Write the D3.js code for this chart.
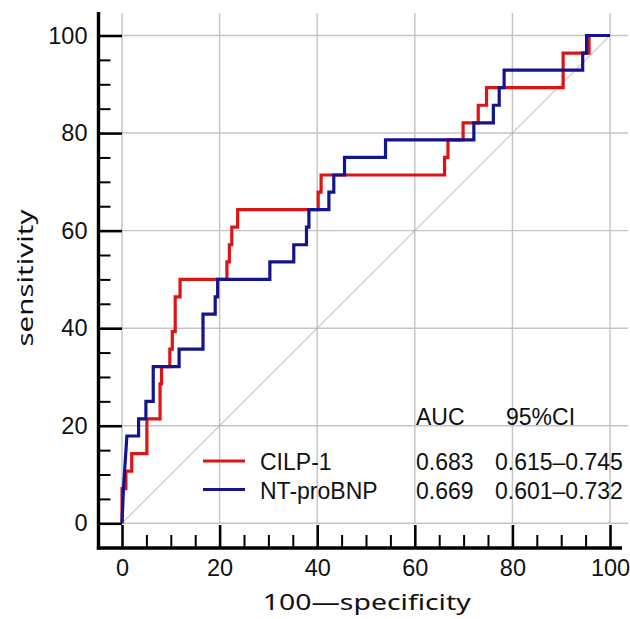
<!DOCTYPE html>
<html>
<head>
<meta charset="utf-8">
<script src="https://cdn.jsdelivr.net/npm/d3@7"></script>
<style>
  html, body { margin: 0; padding: 0; background: #fff; }
  svg { display: block; }
</style>
</head>
<body>
<div id="chart"></div>
<script>
// ---- data (ROC vertices: 100-specificity, sensitivity) ----
const seriesNames = ["CILP-1", "NT-proBNP"];
const seriesColors = ["#dc1414", "#14148e"];
const aucValues = ["0.683", "0.669"];
const ciValues = ["0.615\u20130.745", "0.601\u20130.732"];

const cilpFPR = [0, 0, 0.8, 0.8, 2.0, 2.0, 5.1, 5.1, 7.8, 7.8, 8.1, 8.1, 9.8, 9.8, 10.3, 10.3, 10.9, 10.9, 11.9, 11.9,
  21.5, 21.5, 22.0, 22.0, 22.5, 22.5, 23.7, 23.7, 40.2, 40.2, 40.8, 40.8, 66.1, 66.1, 66.8, 66.8, 69.9, 69.9,
  73.0, 73.0, 74.7, 74.7, 90.4, 90.4, 95.7, 95.7, 100];
const cilpTPR = [0, 7.1, 7.1, 10.7, 10.7, 14.3, 14.3, 21.4, 21.4, 28.6, 28.6, 32.1, 32.1, 35.7, 35.7, 39.3, 39.3, 46.4, 46.4, 50,
  50, 53.6, 53.6, 57.1, 57.1, 60.7, 60.7, 64.3, 64.3, 67.9, 67.9, 71.4, 71.4, 75, 75, 78.6, 78.6, 82.1,
  82.1, 85.7, 85.7, 89.3, 89.3, 96.4, 96.4, 100, 100];

const bnpFPR = [0, 0.3, 1.0, 3.4, 3.4, 4.9, 4.9, 6.4, 6.4, 11.7, 11.7, 16.6, 16.6, 19.1, 19.1, 19.6, 19.6,
  30.3, 30.3, 35.2, 35.2, 37.8, 37.8, 38.3, 38.3, 42.4, 42.4, 43.4, 43.4, 45.6, 45.6, 54.0, 54.0,
  72.1, 72.1, 76.1, 76.1, 77.3, 77.3, 78.3, 78.3, 94.4, 94.4, 95.2, 95.2, 100];
const bnpTPR = [0, 7.1, 17.9, 17.9, 21.4, 21.4, 25, 25, 32.1, 32.1, 35.7, 35.7, 42.9, 42.9, 46.4, 46.4, 50,
  50, 53.6, 53.6, 57.1, 57.1, 60.7, 60.7, 64.3, 64.3, 67.9, 67.9, 71.4, 71.4, 75, 75, 78.6,
  78.6, 82.1, 82.1, 85.7, 85.7, 89.3, 89.3, 92.9, 92.9, 96.4, 96.4, 100, 100];

const majorTicks = [0, 20, 40, 60, 80, 100];
const minorTicks = d3.range(0, 101, 5).filter(v => v % 20 !== 0);
const xTitle = "100\u2014specificity";
const yTitle = "sensitivity";

// ---- layout ----
const W = 630, H = 619;
const x = d3.scaleLinear().domain([0, 100]).range([122, 610]);
const y = d3.scaleLinear().domain([0, 100]).range([523.3, 35.5]);
const gridTop = 13, gridRight = 628;
const axisX = 98.5, axisY = 548;

const svg = d3.select("#chart").append("svg").attr("width", W).attr("height", H);

// grid
const grid = svg.append("g").attr("stroke", "#c4c4c4").attr("stroke-width", 1.4);
grid.selectAll("line.v").data(majorTicks).enter().append("line")
  .attr("x1", d => x(d)).attr("x2", d => x(d)).attr("y1", gridTop).attr("y2", y(0));
grid.selectAll("line.h").data(majorTicks).enter().append("line")
  .attr("x1", x(0)).attr("x2", gridRight).attr("y1", d => y(d)).attr("y2", d => y(d));

// diagonal reference
svg.append("line").attr("x1", x(0)).attr("y1", y(0)).attr("x2", x(100)).attr("y2", y(100))
  .attr("stroke", "#a8a8a8").attr("stroke-width", 1);

// axes
const tickFont = "'Liberation Sans', Arial, sans-serif";
const yMajor = svg.append("g").attr("transform", `translate(${axisX},0)`)
  .call(d3.axisLeft(y).tickValues(majorTicks).tickSize(-23.5).tickPadding(11));
const yMinor = svg.append("g").attr("transform", `translate(${axisX},0)`)
  .call(d3.axisLeft(y).tickValues(minorTicks).tickSize(-12).tickFormat(""));
const xMajor = svg.append("g").attr("transform", `translate(0,${axisY})`)
  .call(d3.axisBottom(x).tickValues(majorTicks).tickSize(-23).tickPadding(11));
const xMinor = svg.append("g").attr("transform", `translate(0,${axisY})`)
  .call(d3.axisBottom(x).tickValues(minorTicks).tickSize(-13).tickFormat(""));
[yMajor, yMinor, xMajor, xMinor].forEach(g => {
  g.select(".domain").remove();
  g.selectAll("text").attr("font-family", tickFont).attr("font-size", 23.5).attr("fill", "#111");
});
[yMajor, xMajor].forEach(g => g.selectAll("line").attr("stroke", "#000").attr("stroke-width", 2.6));
[yMinor, xMinor].forEach(g => g.selectAll("line").attr("stroke", "#000").attr("stroke-width", 2));

svg.append("line").attr("x1", axisX).attr("x2", axisX).attr("y1", 12).attr("y2", axisY + 1.6)
  .attr("stroke", "#000").attr("stroke-width", 3.4);
svg.append("line").attr("x1", axisX - 1.7).attr("x2", 622).attr("y1", axisY).attr("y2", axisY)
  .attr("stroke", "#000").attr("stroke-width", 3.4);

// curves
const line = d3.line().x(d => x(d[0])).y(d => y(d[1]));
const curves = [d3.zip(cilpFPR, cilpTPR), d3.zip(bnpFPR, bnpTPR)];
svg.selectAll("path.roc").data(curves).enter().append("path")
  .attr("class", "roc")
  .attr("d", line)
  .attr("fill", "none")
  .attr("stroke", (d, i) => seriesColors[i])
  .attr("stroke-width", 3.2)
  .attr("stroke-linejoin", "miter");

// legend + table
const rowY = [470, 498.5];
const leg = svg.append("g").attr("font-family", tickFont).attr("font-size", 23).attr("fill", "#111");
seriesNames.forEach((name, i) => {
  leg.append("line").attr("x1", 203).attr("x2", 245).attr("y1", rowY[i] - 9).attr("y2", rowY[i] - 9)
    .attr("stroke", seriesColors[i]).attr("stroke-width", 3.2);
  leg.append("text").attr("x", 260).attr("y", rowY[i]).text(name);
  leg.append("text").attr("x", 416).attr("y", rowY[i]).text(aucValues[i]);
  leg.append("text").attr("x", 495).attr("y", rowY[i]).text(ciValues[i]);
});
leg.append("text").attr("x", 416).attr("y", 425).text("AUC");
leg.append("text").attr("x", 506).attr("y", 425).text("95%CI");

// axis titles
const titleFont = "'Noto Sans', 'Open Sans', sans-serif";
svg.append("text").attr("transform", "translate(33,278) rotate(-90)")
  .attr("text-anchor", "middle").attr("font-family", titleFont).attr("font-size", 22)
  .attr("fill", "#111").attr("textLength", 137).attr("lengthAdjust", "spacingAndGlyphs").text(yTitle);
svg.append("text").attr("x", 366.7).attr("y", 610)
  .attr("text-anchor", "middle").attr("font-family", titleFont).attr("font-size", 22)
  .attr("fill", "#111").attr("textLength", 208).attr("lengthAdjust", "spacingAndGlyphs").text(xTitle);
</script>
</body>
</html>
